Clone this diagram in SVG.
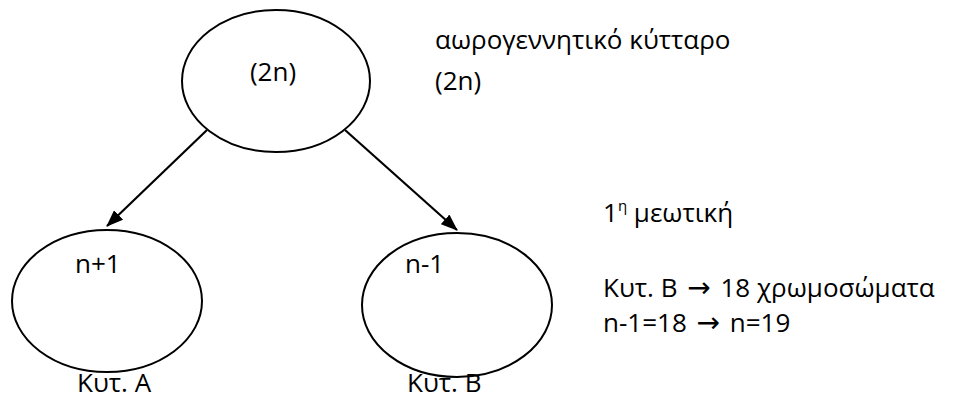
<svg xmlns="http://www.w3.org/2000/svg" width="959" height="399" viewBox="0 0 959 399">
<style>
text{font-family:"Open Sans","Liberation Sans",sans-serif;font-size:26px;fill:#000}
.arr{font-family:"DejaVu Sans",sans-serif;font-size:28px}
.node ellipse{fill:#fff;stroke:#000;stroke-width:2}
.conn line{stroke:#000;stroke-width:2.2}
</style>
<defs>
<marker id="ah" viewBox="0 0 17 13" refX="16" refY="6.5" markerWidth="17" markerHeight="13" markerUnits="userSpaceOnUse" orient="auto">
<path d="M0,0 L17,6.5 L0,13 z" fill="#000"/>
</marker>
</defs>
<rect width="959" height="399" fill="#fff"/>
<g id="parent" class="node">
<ellipse cx="276" cy="81" rx="94" ry="71"/>
<text x="273" y="81" text-anchor="middle">(2n)</text>
</g>
<g id="cellA" class="node">
<ellipse cx="107" cy="301" rx="95" ry="71"/>
<text x="75" y="273">n+1</text>
<text x="77" y="392">Κυτ. Α</text>
</g>
<g id="cellB" class="node">
<ellipse cx="457" cy="305" rx="95" ry="72"/>
<text x="405" y="273">n-1</text>
<text x="407" y="392">Κυτ. Β</text>
</g>
<g id="conns" class="conn">
<line x1="207" y1="130" x2="107" y2="226" marker-end="url(#ah)"/>
<line x1="345" y1="130" x2="457" y2="230" marker-end="url(#ah)"/>
</g>
<g id="notes">
<text x="435" y="49">αωρογεννητικό κύτταρο</text>
<text x="435" y="90">(2n)</text>
<text x="603" y="222">1<tspan font-size="15" dy="-11">η</tspan><tspan dy="11"> μεωτική</tspan></text>
<text x="603" y="297">Κυτ. Β <tspan class="arr" dx="3">→</tspan><tspan dx="3"> 18 χρωμοσώματα</tspan></text>
<text x="603" y="332">n-1=18 <tspan class="arr" dx="3">→</tspan><tspan dx="3"> n=19</tspan></text>
</g>
</svg>
